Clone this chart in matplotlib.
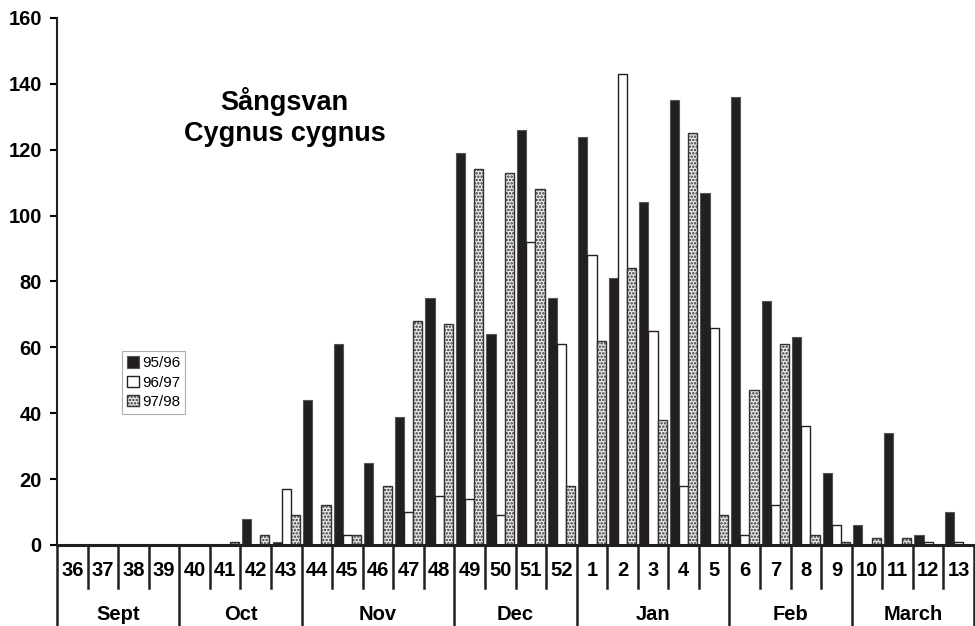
import matplotlib
matplotlib.use('Agg')
import matplotlib.pyplot as plt
import numpy as np

plt.rcParams['font.family'] = ['Liberation Sans', 'DejaVu Sans']
plt.rcParams['hatch.linewidth'] = 1.2

# weeks from Sept to March
weeks = [36, 37, 38, 39, 40, 41, 42, 43, 44, 45, 46, 47, 48, 49, 50, 51, 52,
         1, 2, 3, 4, 5, 6, 7, 8, 9, 10, 11, 12, 13]
months = ['Sept', 'Oct', 'Nov', 'Dec', 'Jan', 'Feb', 'March']
month_weeks = [4, 4, 5, 4, 5, 4, 4]  # number of weeks in each month group

s9596 = [0, 0, 0, 0, 0, 0, 8, 1, 44, 61, 25, 39, 75, 119, 64, 126, 75,
         124, 81, 104, 135, 107, 136, 74, 63, 22, 6, 34, 3, 10]
s9697 = [0, 0, 0, 0, 0, 0, 0, 17, 0, 3, 0, 10, 15, 14, 9, 92, 61,
         88, 143, 65, 18, 66, 3, 12, 36, 6, 0, 0, 1, 1]
s9798 = [0, 0, 0, 0, 0, 1, 3, 9, 12, 3, 18, 68, 67, 114, 113, 108, 18,
         62, 84, 38, 125, 9, 47, 61, 3, 1, 2, 2, 0, 0]

fig = plt.figure(figsize=(9.75, 6.26), dpi=100)
ax = fig.add_axes([0.0585, 0.1294, 0.9405, 0.8419])

x = np.arange(len(weeks))
w = 0.3
ax.bar(x - w, s9596, w, color='#231f20', edgecolor='#555555', linewidth=0.8, label='95/96')
ax.bar(x, s9697, w, color='white', edgecolor='#231f20', linewidth=1.0, label='96/97')
ax.bar(x + w, s9798, w, color='#ececec', edgecolor='#333333', hatch='.....',
       linewidth=1.0, label='97/98')

ax.set_xlim(-0.5, len(weeks) - 0.5)
ax.set_ylim(0, 160)
ax.set_yticks(range(0, 161, 20))
ax.tick_params(axis='y', length=5, width=1.5, labelsize=14.5, pad=6)
for lab in ax.get_yticklabels():
    lab.set_fontweight('bold')
ax.set_xticks([])

ax.spines['top'].set_visible(False)
ax.spines['right'].set_visible(False)
ax.spines['left'].set_linewidth(1.5)
ax.spines['bottom'].set_linewidth(2.2)
ax.spines['left'].set_color('#231f20')
ax.spines['bottom'].set_color('#231f20')

# week / month table under the axis
tr = ax.get_xaxis_transform()
row1 = -0.0816
row2 = -0.16
ax.plot([-0.5, -0.5], [0, row2], transform=tr, color='#231f20', lw=1.8, clip_on=False)
bounds = np.cumsum(month_weeks) - 0.5
for i in range(len(weeks)):
    ax.text(i, -0.048, str(weeks[i]), transform=tr, ha='center', va='center',
            fontsize=14.5, fontweight='bold')
    xb = i + 0.5
    if xb in bounds:
        ax.plot([xb, xb], [0, row2], transform=tr, color='#231f20', lw=1.8, clip_on=False)
    else:
        ax.plot([xb, xb], [0, row1], transform=tr, color='#231f20', lw=1.8, clip_on=False)

start = -0.5
for m, n in zip(months, month_weeks):
    ax.text(start + n / 2, -0.131, m, transform=tr, ha='center', va='center',
            fontsize=14.5, fontweight='bold')
    start += n

ax.text(0.248, 0.812, 'Sångsvan\nCygnus cygnus', transform=ax.transAxes,
        ha='center', va='center', fontsize=19.5, fontweight='bold', linespacing=1.25)

leg = ax.legend(loc='upper left', bbox_to_anchor=(0.0708, 0.368), fontsize=11,
                frameon=True, fancybox=False, handlelength=0.75, handleheight=0.75,
                handletextpad=0.2, labelspacing=0.35, borderpad=0.35, borderaxespad=0)
leg.get_frame().set_edgecolor('#999999')
leg.get_frame().set_linewidth(0.8)

fig.savefig('out.png', dpi=100)
